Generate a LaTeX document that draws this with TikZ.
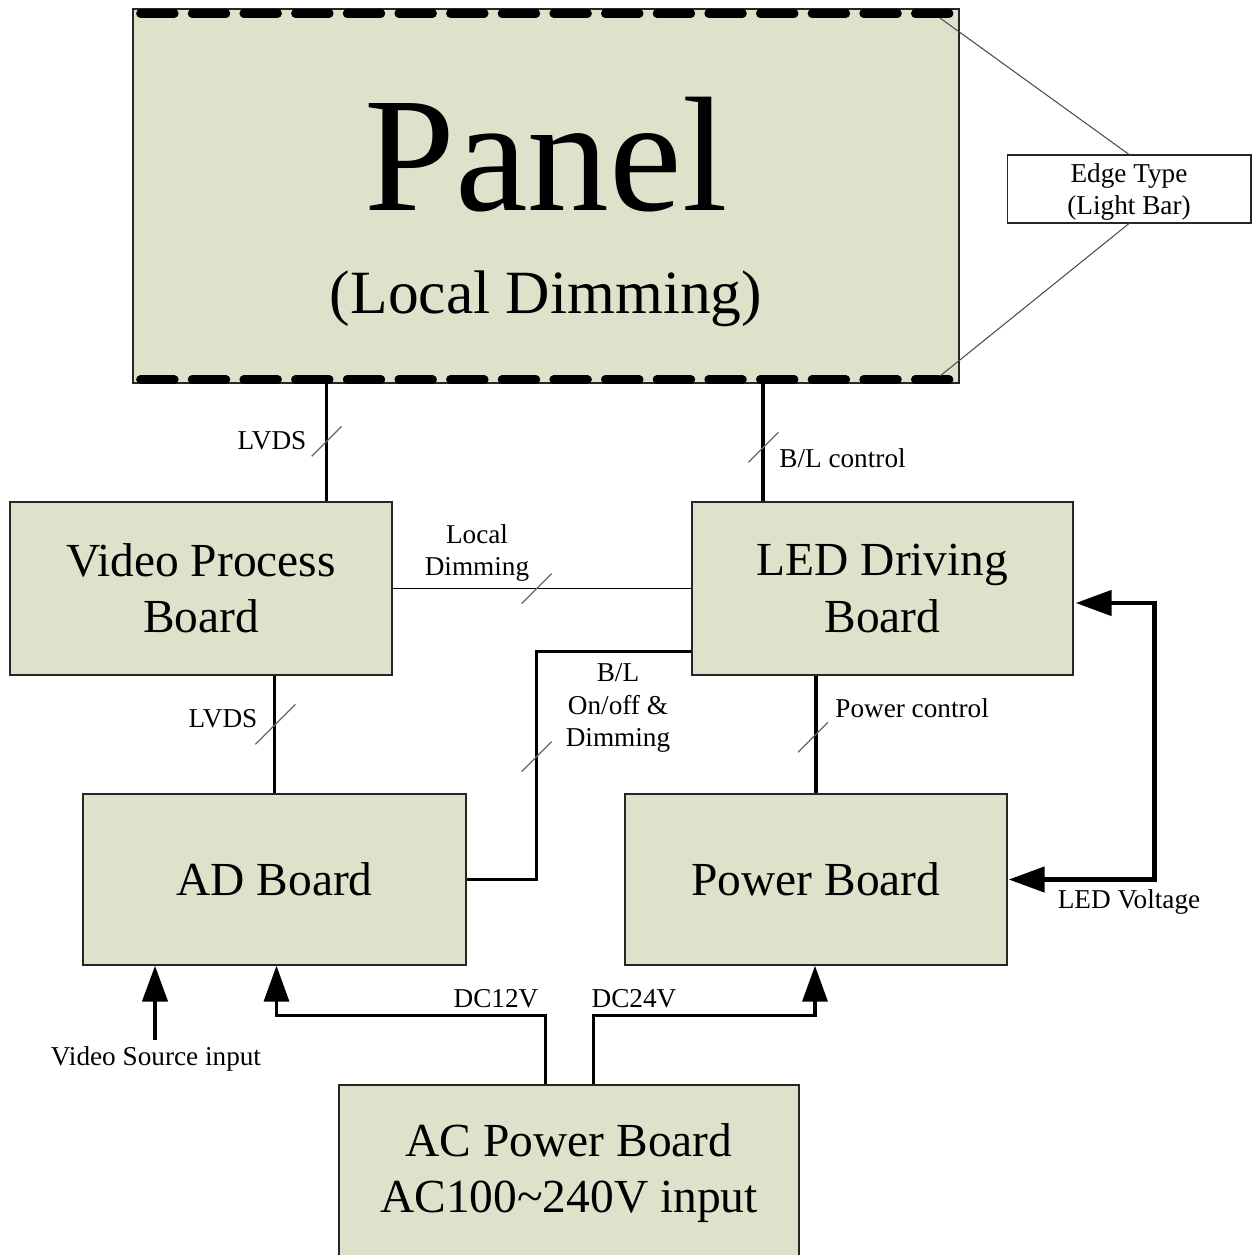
\documentclass[tikz,border=0pt]{standalone}
\usepackage{fontspec}
\setmainfont{Liberation Serif}
\usetikzlibrary{arrows.meta, positioning, calc}

\definecolor{boardfill}{RGB}{221,227,203}

\begin{document}
\begin{tikzpicture}[x=0.02cm, y=-0.02cm,
  >={Triangle[length=0.72cm, width=0.5cm]},
  board/.style={draw=black!85, fill=boardfill, line width=0.8pt, align=center,
    font=\fontsize{27}{32}\selectfont},
  small/.style={font=\fontsize{15.5}{18}\selectfont, align=center},
  thinbus/.style={line width=0.8pt},
  thickbus/.style={line width=2pt},
  slash/.style={black!60, line width=0.7pt},
  leader/.style={black!70, line width=0.6pt},
  lightbar/.style={line width=0.17cm, line cap=round, dash pattern=on 0.68cm off 0.3533cm},
  feed/.style={line width=2.6pt, ->},
  supply/.style={line width=2pt, ->}]

\useasboundingbox (0,0) rectangle (1252,1255);

\pgfmathsetmacro{\ds}{15}

% boards
\node[board, minimum width=16.52cm, minimum height=7.48cm] (panel) at (546,196) {};
\node[font=\fontsize{93}{100}\selectfont] (paneltitle) at (546,155) {Panel};
\node[font=\fontsize{35}{40}\selectfont] (panelsub) at (546,299) {(Local Dimming)};

\node[board, minimum width=7.64cm, minimum height=3.46cm] (vpb) at (201,588.5) {Video Process\\Board};
\node[board, minimum width=7.62cm, minimum height=3.46cm] (led) at (882.5,588.5) {LED Driving\\Board};
\node[board, minimum width=7.66cm, minimum height=3.42cm] (ad) at (274.5,879.5) {AD Board};
\node[board, minimum width=7.64cm, minimum height=3.42cm] (pwr) at (816,879.5) {Power Board};
\node[board, minimum width=9.2cm, minimum height=3.46cm] (ac) at (569,1171.5) {};
\node[font=\fontsize{27}{32}\selectfont, align=center] (actext) at (569,1173) {AC Power Board\\AC100\textasciitilde240V input};

% light bars
\draw[lightbar] ($(panel.north west)+(8,5)$) -- ($(panel.north east)+(-10,5)$);
\draw[lightbar] ($(panel.south west)+(8,-4)$) -- ($(panel.south east)+(-10,-4)$);

\node[draw=black!85, line width=0.6pt, minimum width=4.88cm, minimum height=1.36cm, small] (edge) at (1129,189) {};
\node[small] (edgetext) at (1129,192) {Edge Type\\(Light Bar)};
\coordinate (bartop) at (940,18);
\coordinate (barbot) at (940,376);
\draw[leader] (edge.north) -- (bartop);
\draw[leader] (edge.south) -- (barbot);

% signal buses
\draw[thickbus] ($(vpb.north east)+(-66,0)$) coordinate (lv1) -- (lv1 |- panel.south);
\coordinate (s1) at ($(lv1)+(0,-60)$);
\draw[slash] ($(s1)+(-\ds,\ds)$) -- ($(s1)+(\ds,-\ds)$);
\node[small] (lbllvdsa) at (272,441) {LVDS};

\draw[line width=2.2pt] ($(led.north west)+(72,0)$) coordinate (bl) -- (bl |- panel.south);
\coordinate (s2) at ($(bl)+(0,-54)$);
\draw[slash] ($(s2)+(-\ds,\ds)$) -- ($(s2)+(\ds,-\ds)$);
\node[small, anchor=west, inner sep=0pt] (lblbl) at (779,458) {B/L control};

\draw[thinbus] (vpb.east) -- (led.west);
\coordinate (s3) at ($(vpb.east)+(144,0)$);
\draw[slash] ($(s3)+(-\ds,\ds)$) -- ($(s3)+(\ds,-\ds)$);
\node[small] (lbllocal) at (477,553) {Local\\Dimming};

\draw[line width=1.4pt] (ad.north) -- (ad.north |- vpb.south);
\coordinate (s4) at ($(ad.north)+(1,-69)$);
\draw[slash] ($(s4)+(-20,20)$) -- ($(s4)+(20,-20)$);
\node[small] (lbllvdsb) at (223,719) {LVDS};

\draw[thickbus] (pwr.north) -- (pwr.north |- led.south);
\coordinate (s5) at ($(pwr.north)+(-3,-56)$);
\draw[slash] ($(s5)+(-\ds,\ds)$) -- ($(s5)+(\ds,-\ds)$);
\node[small, anchor=west, inner sep=0pt] (lblpc) at (835,708) {Power control};

\draw[thickbus] (ad.east) -- ++(70,0) coordinate (onoff) |- ($(led.south west)+(0,-24)$);
\coordinate (s6) at ($(onoff)+(0,-123)$);
\draw[slash] ($(s6)+(-\ds,\ds)$) -- ($(s6)+(\ds,-\ds)$);
\node[small, font=\fontsize{15.5}{18.7}\selectfont] (lblonoff) at (618,708) {B/L\\On/off \&\\Dimming};

% power feeds
\draw[feed, <->] ($(led.east)+(2,14.5)$) -| ($(pwr.east)+(147,0)$) -- ($(pwr.east)+(1,0)$);
\node[small] (lblledv) at (1129,902) {LED Voltage};

\coordinate (vsin) at (155,1040);
\draw[feed] (vsin) -- (vsin |- ad.south);
\node[small] (lblvsrc) at (156,1059) {Video Source input};

\draw[supply] ($(ac.north west)+(207,0)$) |- ($(ad.south)+(2,50)$) -- ($(ad.south)+(2,0)$);
\node[small] (lbldc12) at (496,999) {DC12V};

\draw[supply] ($(ac.north west)+(255,0)$) |- ($(pwr.south)+(-1,50)$) -- ($(pwr.south)+(-1,0)$);
\node[small] (lbldc24) at (634,999) {DC24V};

\end{tikzpicture}
\end{document}
